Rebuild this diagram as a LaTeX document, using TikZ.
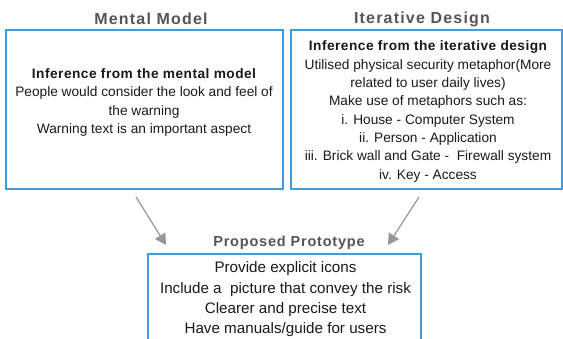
\documentclass[tikz,border=0pt]{standalone}
\usepackage{fontspec}
\setmainfont{Liberation Sans}
\newfontfamily\headfont[LetterSpace=7.5]{Liberation Sans}
\newfontfamily\subheadfont[LetterSpace=5.5]{Liberation Sans}
\newfontfamily\leadfont[LetterSpace=3.5]{Liberation Sans}
\usetikzlibrary{arrows.meta}
\definecolor{boxblue}{RGB}{64,156,220}
\definecolor{headgray}{RGB}{85,85,85}
\definecolor{arrowgray}{RGB}{150,150,150}
\begin{document}
\begin{tikzpicture}[x=1pt, y=-1pt,
  box/.style={draw=boxblue, line width=1.5pt, inner sep=0pt},
  head/.style={text=headgray, font=\headfont\bfseries\fontsize{16}{19}\selectfont},
  body/.style={align=center, text=black!90, font=\fontsize{13.7}{18.3}\selectfont},
  link/.style={draw=arrowgray, line width=1.2pt, -{Triangle[width=12pt,length=11pt]}}]
\useasboundingbox (0,0) rectangle (563,338);
\node[head](1) at (151,19) {Mental Model};
\node[head](2) at (422,19) {Iterative Design};
\node[box, minimum width=277pt, minimum height=159pt](mental) at (144.5,109.5) {};
\node[box, minimum width=271pt, minimum height=159pt](iterative) at (426.5,109.5) {};
\node[body](3) at (144,102.5) {{\leadfont\bfseries Inference from the mental model}\\
  People would consider the look and feel of\\
  the warning\\
  Warning text is an important aspect};
\node[body](4) at (428,111.5) {{\leadfont\bfseries Inference from the iterative design}\\
  Utilised physical security metaphor(More\\
  related to user daily lives)\\
  Make use of metaphors such as:\\
  i. House - Computer System\\
  ii. Person - Application\\
  iii. Brick wall and Gate - \ Firewall system\\
  iv. Key - Access};
\node[head, font=\subheadfont\bfseries\fontsize{14.5}{17}\selectfont](5) at (289,243) {Proposed Prototype};
\node[box, minimum width=273pt, minimum height=110pt, anchor=north](proposed) at (284.5,253) {};
\node[body, font=\fontsize{15.2}{20.3}\selectfont](6) at (285.5,299.5) {Provide explicit icons\\
  Include a \ picture that convey the risk\\
  Clearer and precise text\\
  Have manuals/guide for users};
\coordinate (ml out) at (136,197);
\coordinate (ml in) at (166,245);
\coordinate (id out) at (419,197);
\coordinate (id in) at (388,245);
\draw[link] (ml out) -- (ml in);
\draw[link] (id out) -- (id in);
\end{tikzpicture}
\end{document}
